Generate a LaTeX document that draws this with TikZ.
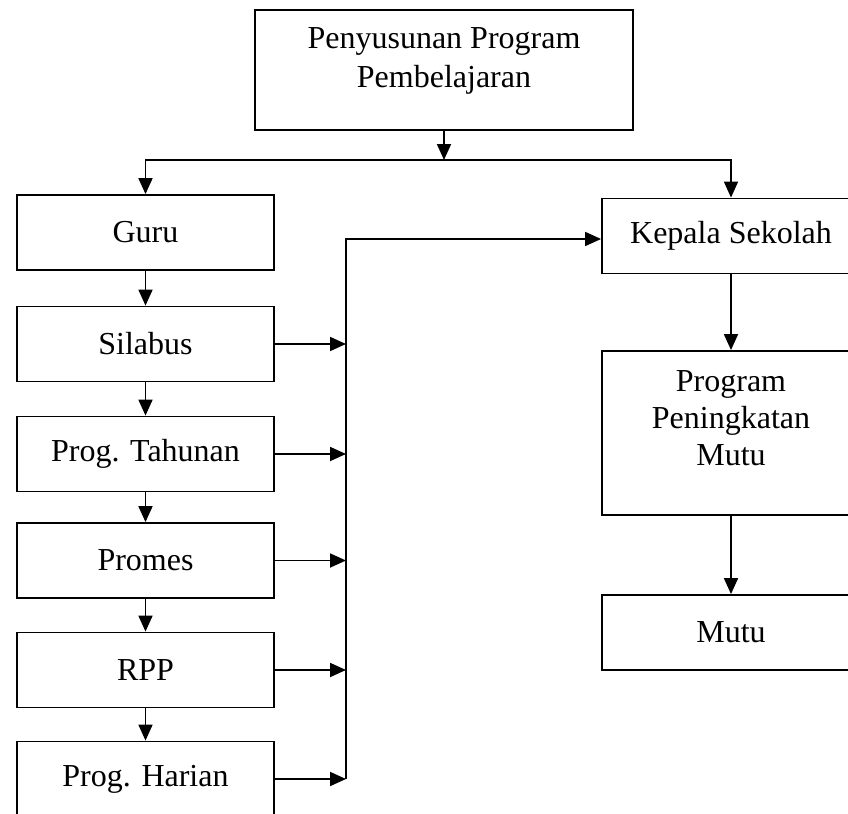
\documentclass[tikz,border=0pt]{standalone}
\usepackage{fontspec}
\setmainfont{Liberation Serif}
\usetikzlibrary{arrows.meta}

\begin{document}
\begin{tikzpicture}[x=0.5pt, y=-0.5pt, line width=0.9pt,
  font=\fontsize{16}{18.5}\selectfont,
  kotak/.style={draw, rectangle, inner sep=0pt, minimum width=128.5pt, minimum height=37.5pt},
  teks/.style={align=center, inner sep=0pt},
  panah/.style={-{Triangle[length=8pt,width=7pt]}}]
\useasboundingbox (0,0) rectangle (848,814);
\node[kotak, minimum width=189pt, minimum height=60pt] (ppp) at (444,70) {};
\node[teks, font=\fontsize{16}{19.5}\selectfont] (ppptext) at (444,61) {Penyusunan Program\\Pembelajaran};
\coordinate (fork) at (444,160);
\node[kotak] (guru) at (145.5,232.5) {Guru};
\node[kotak] (silabus) at (145.5,344) {Silabus};
\node[kotak] (tahunan) at (145.5,454) {Prog. Tahunan};
\node[kotak] (promes) at (145.5,560.5) {Promes};
\node[kotak] (rpp) at (145.5,670) {RPP};
\node[kotak] (harian) at (145.5,779) {Prog. Harian};
\node[kotak, minimum width=129pt] (kepala) at (731,236) {Kepala Sekolah};
\node[kotak, minimum width=129pt, minimum height=82pt] (program) at (731,433) {};
\node[teks] (programtext) at (731,418) {Program\\Peningkatan\\Mutu};
\node[kotak, minimum width=129pt] (mutu) at (731,632.5) {Mutu};
\coordinate (bus) at (346,239);
\draw[panah] (ppp.south) -- (fork);
\draw[panah] (fork) -| (guru.north);
\draw[panah] (fork) -| (kepala.north);
\draw[panah] (guru) -- (silabus);
\draw[panah] (silabus) -- (tahunan);
\draw[panah] (tahunan) -- (promes);
\draw[panah] (promes) -- (rpp);
\draw[panah] (rpp) -- (harian);
\draw[panah] (silabus.east) -- (silabus.east -| bus);
\draw[panah] (tahunan.east) -- (tahunan.east -| bus);
\draw[panah] (promes.east) -- (promes.east -| bus);
\draw[panah] (rpp.east) -- (rpp.east -| bus);
\draw[panah] (harian.east) -- (harian.east -| bus);
\draw[panah] (harian.east -| bus) -- (bus) -- (bus -| kepala.west);
\draw[panah] (kepala) -- (program);
\draw[panah] (program) -- (mutu);
\end{tikzpicture}
\end{document}
